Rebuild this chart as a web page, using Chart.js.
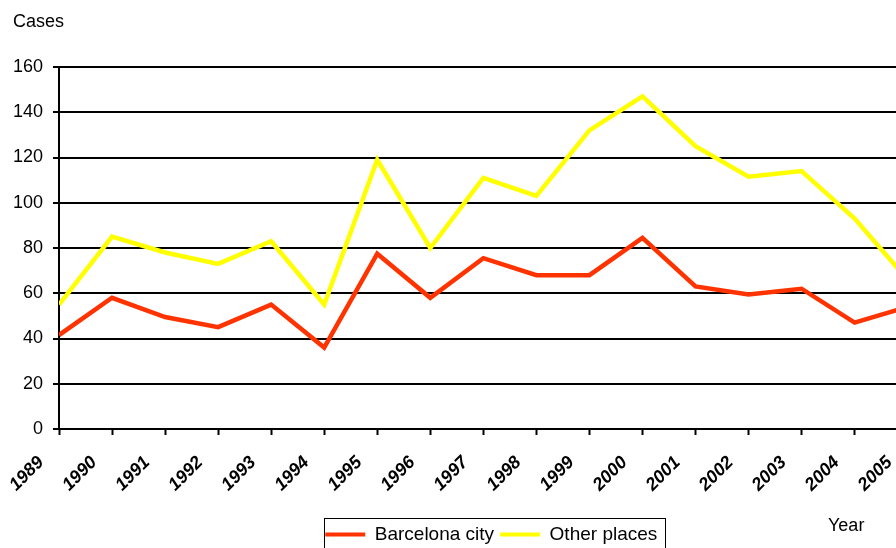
<!DOCTYPE html>
<html lang="en">
<head>
<meta charset="UTF-8" />
<title>Cases by year</title>
<script src="https://cdn.jsdelivr.net/npm/chart.js"></script>
<style>
  html, body { margin: 0; padding: 0; overflow: hidden; background: #fff; }
  #wrap { position: absolute; left: 0; top: 0; width: 940px; height: 570px; }
</style>
</head>
<body>
<div id="wrap"><canvas id="chart" width="940" height="570"></canvas></div>
<script>
  // data
  const years = [1989, 1990, 1991, 1992, 1993, 1994, 1995, 1996, 1997, 1998, 1999, 2000, 2001, 2002, 2003, 2004, 2005];
  const barcelonaCity = [41.5, 58, 49.5, 45, 55, 36, 77.5, 58, 75.5, 68, 68, 84.5, 63, 59.5, 62, 47, 54];
  const otherPlaces = [55, 85, 78, 73, 83, 55, 119, 80, 111, 103, 132, 147, 125, 111.5, 114, 93, 66];
  const yTicks = [0, 20, 40, 60, 80, 100, 120, 140, 160];

  const FONT = "'Liberation Sans', Arial, sans-serif";

  const toPoints = vals => years.map((yr, i) => ({ x: yr, y: vals[i] }));

  // "Year" label and the box round the legend
  const extras = {
    id: 'extras',
    afterDraw(chart) {
      const ctx = chart.ctx;
      ctx.save();
      ctx.fillStyle = '#000';
      ctx.font = '18px ' + FONT;
      ctx.textAlign = 'left';
      ctx.textBaseline = 'middle';
      ctx.fillText('Year', 828, 526);

      const hb = chart.legend.legendHitBoxes;
      if (hb && hb.length) {
        const last = hb[hb.length - 1];
        const left = hb[0].left - 1;
        const right = last.left + last.width + 8;
        const top = hb[0].top - 7;
        ctx.strokeStyle = '#000';
        ctx.lineWidth = 1;
        ctx.strokeRect(Math.round(left) + 0.5, Math.round(top) + 0.5, Math.round(right - left), 40);
      }
      ctx.restore();
    }
  };

  new Chart(document.getElementById('chart'), {
    type: 'line',
    data: {
      datasets: [
        {
          label: 'Barcelona city',
          data: toPoints(barcelonaCity),
          borderColor: '#ff3300',
          backgroundColor: '#ff3300',
          borderWidth: 4.5,
          pointRadius: 0,
          tension: 0
        },
        {
          label: 'Other places',
          data: toPoints(otherPlaces),
          borderColor: '#ffff00',
          backgroundColor: '#ffff00',
          borderWidth: 4.5,
          pointRadius: 0,
          tension: 0
        }
      ]
    },
    options: {
      responsive: false,
      animation: false,
      devicePixelRatio: 1,
      layout: { padding: { left: 13, right: 4, top: 0, bottom: 16 } },
      plugins: {
        title: {
          display: true,
          text: 'Cases',
          align: 'start',
          color: '#000',
          font: { family: FONT, size: 18, weight: 'normal' },
          padding: { top: 11, bottom: 34.4 }
        },
        legend: {
          position: 'bottom',
          fullSize: false,
          labels: {
            color: '#000',
            font: { family: FONT, size: 19 },
            boxWidth: 40,
            boxHeight: 4,
            padding: 6,
            generateLabels(chart) {
              const items = Chart.defaults.plugins.legend.labels.generateLabels(chart);
              items.forEach(it => { it.lineWidth = 0; });
              return items;
            }
          }
        },
        tooltip: { enabled: false }
      },
      scales: {
        x: {
          type: 'linear',
          min: 1989,
          max: 2005.3,
          afterBuildTicks(scale) {
            scale.ticks = years.map(v => ({ value: v }));
          },
          afterFit(scale) { scale.height = 90; },
          ticks: {
            autoSkip: false,
            minRotation: 45,
            maxRotation: 45,
            padding: 17,
            labelOffset: -18,
            color: '#000',
            font: { family: FONT, size: 18, weight: 'bold', style: 'italic' },
            callback: v => String(v)
          },
          grid: {
            drawOnChartArea: false,
            drawTicks: true,
            tickLength: 6,
            tickColor: '#000',
            tickWidth: 2
          },
          border: { color: '#000', width: 2 }
        },
        y: {
          min: 0,
          max: 160,
          afterBuildTicks(scale) {
            scale.ticks = yTicks.map(v => ({ value: v }));
          },
          afterFit(scale) { scale.width = 46; },
          ticks: {
            padding: 10,
            color: '#000',
            font: { family: FONT, size: 18 }
          },
          grid: {
            color: '#000',
            lineWidth: 2,
            tickLength: 6,
            tickColor: '#000',
            tickWidth: 2
          },
          border: { color: '#000', width: 2 }
        }
      }
    },
    plugins: [extras]
  });
</script>
</body>
</html>
